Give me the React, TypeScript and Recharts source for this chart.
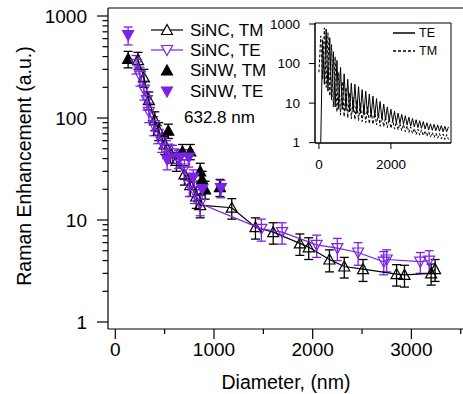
import React from 'react';
import {
  ScatterChart,
  Scatter,
  XAxis,
  YAxis,
  ErrorBar,
  ReferenceLine,
  ReferenceArea,
  Legend,
  Label,
  LineChart,
  Line,
} from 'recharts';

const FONT = '"Liberation Sans", Arial, Helvetica, sans-serif';
const PURPLE = '#7b22e6';

// SiNC, TM (open triangles, joined)
const sincTmDiam = [230, 290, 340, 400, 440, 500, 560, 620, 700, 760, 820, 860, 1180, 1420, 1600, 1870, 1960, 2170, 2320, 2510, 2850, 2930, 3200, 3240];
const sincTmVal = [370, 250, 150, 95, 75, 55, 45, 38, 28, 22, 17, 14, 13.2, 8.5, 7.6, 5.9, 5.4, 4.1, 3.5, 3.3, 2.95, 2.9, 3.0, 3.3];
const sincTmErr = [70, 50, 30, 20, 15, 11, 9, 8, 6, 5, 4, 3.5, 3, 2, 1.8, 1.4, 1.3, 1, 0.8, 0.8, 0.7, 0.7, 0.7, 0.8];

// SiNC, TE (open inverted triangles, joined)
const sincTeDiam = [210, 250, 290, 320, 340, 390, 430, 470, 520, 580, 640, 700, 750, 800, 860, 1480, 1690, 2040, 2250, 2460, 2720, 2750, 3090, 3180];
const sincTeVal = [340, 260, 190, 150, 115, 85, 70, 58, 50, 45, 40, 32, 22, 19, 14.5, 8.2, 7.6, 5.7, 5.3, 4.8, 3.9, 4.1, 3.9, 4.0];
const sincTeErr = [70, 55, 40, 30, 25, 18, 14, 12, 10, 9, 8, 7, 5, 4.5, 3.5, 2, 1.8, 1.4, 1.3, 1.2, 1, 1, 0.9, 1];

// SiNW, TM (filled triangles)
const sinwTmDiam = [130, 537, 680, 760, 860, 880, 910, 1060];
const sinwTmVal = [380, 75, 47, 47, 30, 25, 20, 21];
const sinwTmErr = [70, 12, 8, 8, 6, 5, 4, 4];

// SiNW, TE (filled inverted triangles)
const sinwTeDiam = [130, 525, 656, 745, 790, 880, 1070];
const sinwTeVal = [650, 39, 41, 41, 26, 20, 20.5];
const sinwTeErr = [130, 8, 8, 8, 5, 4, 4];

const xMajor = [0, 1000, 2000, 3000];
const xMinor = [500, 1500, 2500, 3500];
const yMajor = [1, 10, 100, 1000];
const yMinor = [2, 3, 4, 5, 6, 7, 8, 9, 20, 30, 40, 50, 60, 70, 80, 90, 200, 300, 400, 500, 600, 700, 800, 900];

// inset: calculated enhancement vs diameter
const insetDiam = [0, 50, 100, 150, 200, 250, 300, 350, 400, 450, 500, 550, 600, 650, 700, 750, 800, 850, 900, 950, 1000, 1050, 1100, 1150, 1200, 1250, 1300, 1350, 1400, 1450, 1500, 1550, 1600, 1650, 1700, 1750, 1800, 1850, 1900, 1950, 2000, 2050, 2100, 2150, 2200, 2250, 2300, 2350, 2400, 2450, 2500, 2550, 2600, 2650, 2700, 2750, 2800, 2850, 2900, 2950, 3000, 3050, 3100, 3150, 3200, 3250, 3300, 3350, 3400, 3450, 3500, 3550, 3600];
const insetTe = [null, 1, 400, 30, 750, 20, 450, 12, 200, 8, 120, 7, 80, 7, 55, 6.5, 40, 6, 32, 6, 30, 5.5, 26, 5.5, 22, 5, 20, 5, 17, 4.6, 15, 4.4, 13, 4.2, 11, 4, 9.5, 3.8, 8, 3.6, 7, 3.4, 6.2, 3.2, 5.6, 3.1, 5.2, 2.9, 4.8, 2.8, 4.4, 2.6, 4.1, 2.5, 3.8, 2.4, 3.6, 2.3, 3.4, 2.2, 3.2, 2.1, 3.0, 2.05, 2.9, 2.0, 2.8, 1.95, 2.7, 1.9, 2.6, 1.9, 2.5];
const insetTm = [60, 500, 40, 800, 25, 600, 15, 300, 8, 150, 6, 60, 5, 35, 4.5, 25, 4.2, 18, 4, 14, 3.8, 12, 3.6, 10, 3.4, 9, 3.2, 8, 3.0, 7, 2.9, 6.2, 2.8, 5.6, 2.6, 5, 2.5, 4.5, 2.4, 4, 2.3, 3.7, 2.2, 3.4, 2.1, 3.1, 2.0, 2.9, 1.9, 2.7, 1.8, 2.5, 1.7, 2.3, 1.6, 2.2, 1.55, 2.1, 1.5, 2.0, 1.45, 1.9, 1.4, 1.8, 1.35, 1.75, 1.3, 1.7, 1.25, 1.65, 1.2, 1.6, 1.2];

const toPoints = (d: number[], v: number[], e: number[]) => d.map((x, i) => ({ x, y: v[i], err: e[i] }));

const sincTm = toPoints(sincTmDiam, sincTmVal, sincTmErr);
const sincTe = toPoints(sincTeDiam, sincTeVal, sincTeErr);
const sinwTm = toPoints(sinwTmDiam, sinwTmVal, sinwTmErr);
const sinwTe = toPoints(sinwTeDiam, sinwTeVal, sinwTeErr);
const insetData = insetDiam.map((d, i) => ({ d, te: insetTe[i], tm: insetTm[i] }));

const triUp = (cx: number, cy: number, fill: string, stroke: string) => (
  <polygon
    points={`${cx},${cy - 5.5} ${cx - 5.5},${cy + 4.5} ${cx + 5.5},${cy + 4.5}`}
    fill={fill}
    stroke={stroke}
    strokeWidth={1.2}
  />
);

const triDown = (cx: number, cy: number, fill: string, stroke: string) => (
  <polygon
    points={`${cx},${cy + 5.5} ${cx - 5.5},${cy - 4.5} ${cx + 5.5},${cy - 4.5}`}
    fill={fill}
    stroke={stroke}
    strokeWidth={1.2}
  />
);

const YTick = (props: any) => {
  const { x, y, payload } = props;
  const major = yMajor.includes(payload.value);
  return (
    <g>
      <line x1={x - (major ? 11 : 5.5)} x2={x} y1={y} y2={y} stroke="#000" strokeWidth={1.2} />
      {major && (
        <text x={x - 21} y={y} dy="0.35em" textAnchor="end" fontSize={19} fontFamily={FONT} fill="#000">
          {payload.value}
        </text>
      )}
    </g>
  );
};

const XTick = (props: any) => {
  const { x, y, payload } = props;
  const major = xMajor.includes(payload.value);
  return (
    <g>
      <line x1={x} x2={x} y1={y} y2={y + (major ? 10 : 5)} stroke="#000" strokeWidth={1.2} />
      {major && (
        <text x={x} y={y + 26.5} textAnchor="middle" fontSize={19} fontFamily={FONT} fill="#000">
          {payload.value}
        </text>
      )}
    </g>
  );
};

const InsetYTick = (props: any) => {
  const { x, y, payload } = props;
  return (
    <g>
      <line x1={x - 6} x2={x} y1={y} y2={y} stroke="#000" strokeWidth={1} />
      <text x={x - 15} y={y} dy="0.35em" textAnchor="end" fontSize={13.5} fontFamily={FONT} fill="#000">
        {payload.value}
      </text>
    </g>
  );
};

const InsetXTick = (props: any) => {
  const { x, y, payload } = props;
  return (
    <g>
      <line x1={x} x2={x} y1={y} y2={y + 6} stroke="#000" strokeWidth={1} />
      <text x={x} y={y + 26.3} textAnchor="middle" fontSize={13.5} fontFamily={FONT} fill="#000">
        {payload.value}
      </text>
    </g>
  );
};

const txt = { fontSize: 17, fontFamily: FONT, fill: '#000' };

const MainLegend = () => (
  <svg width={290} height={140} style={{ display: 'block', pointerEvents: 'none' }}>
    <line x1={151} x2={183} y1={30} y2={30} stroke="#000" strokeWidth={1.2} />
    {triUp(167, 30, '#fff', '#000')}
    <text x={190} y={30} dy="0.35em" {...txt}>SiNC, TM</text>
    <line x1={151} x2={183} y1={50} y2={50} stroke={PURPLE} strokeWidth={1.2} />
    {triDown(167, 50, '#fff', PURPLE)}
    <text x={190} y={50} dy="0.35em" {...txt}>SiNC, TE</text>
    {triUp(167, 70.5, '#000', '#000')}
    <text x={190} y={70.5} dy="0.35em" {...txt}>SiNW, TM</text>
    {triDown(167, 91.5, PURPLE, PURPLE)}
    <text x={190} y={91.5} dy="0.35em" {...txt}>SiNW, TE</text>
    <text x={184} y={117} dy="0.35em" {...txt}>632.8 nm</text>
  </svg>
);

const InsetLegend = () => (
  <svg width={210} height={60} style={{ display: 'block', pointerEvents: 'none' }}>
    <line x1={143} x2={165} y1={23} y2={23} stroke="#000" strokeWidth={1.5} />
    <text x={169} y={23} dy="0.35em" fontSize={12.5} fontFamily={FONT} fill="#000">TE</text>
    <line x1={143} x2={165} y1={41} y2={41} stroke="#000" strokeWidth={1.5} strokeDasharray="3 2" />
    <text x={169} y={41} dy="0.35em" fontSize={12.5} fontFamily={FONT} fill="#000">TM</text>
  </svg>
);

export default function App() {
  return (
    <div style={{ position: 'absolute', left: 0, top: 0, width: 463, height: 394, overflow: 'hidden', background: '#fff' }}>
      <ScatterChart width={463} height={394} margin={{ top: 8, right: 0, bottom: 64, left: 107 }}>
        <XAxis
          dataKey="x"
          type="number"
          domain={[-74, 3523]}
          allowDataOverflow
          ticks={[...xMajor, ...xMinor]}
          interval={0}
          tickSize={0}
          tickMargin={0}
          tickLine={false}
          tick={<XTick />}
          height={1}
          axisLine={{ stroke: '#000', strokeWidth: 1.2 }}
        >
          <Label
            content={() => (
              <text x={286} y={389} textAnchor="middle" fontSize={19.5} fontFamily={FONT} fill="#000">
                Diameter, (nm)
              </text>
            )}
          />
        </XAxis>
        <YAxis
          dataKey="y"
          type="number"
          scale="log"
          domain={[0.854, 1198]}
          allowDataOverflow
          ticks={[...yMajor, ...yMinor]}
          interval={0}
          tickSize={0}
          tickMargin={0}
          tickLine={false}
          tick={<YTick />}
          width={1}
          axisLine={{ stroke: '#000', strokeWidth: 1.2 }}
        >
          <Label
            content={() => (
              <text
                x={0}
                y={0}
                transform="translate(31,166) rotate(-90)"
                textAnchor="middle"
                fontSize={19.5}
                fontFamily={FONT}
                fill="#000"
              >
                Raman Enhancement (a.u.)
              </text>
            )}
          />
        </YAxis>
        <ReferenceLine y={1198} stroke="#000" strokeWidth={1.2} ifOverflow="visible" />
        <Scatter
          data={sincTm}
          isAnimationActive={false}
          line={{ stroke: '#000', strokeWidth: 1.2 }}
          shape={(p: any) => triUp(p.cx, p.cy, 'none', '#000')}
        >
          <ErrorBar dataKey="err" direction="y" width={4.5} stroke="#000" strokeWidth={1.3} />
        </Scatter>
        <Scatter data={sinwTm} isAnimationActive={false} shape={(p: any) => triUp(p.cx, p.cy, '#000', '#000')}>
          <ErrorBar dataKey="err" direction="y" width={4.5} stroke="#000" strokeWidth={1.3} />
        </Scatter>
        <Scatter
          data={sincTe}
          isAnimationActive={false}
          line={{ stroke: PURPLE, strokeWidth: 1.2 }}
          shape={(p: any) => triDown(p.cx, p.cy, 'none', PURPLE)}
        >
          <ErrorBar dataKey="err" direction="y" width={4.5} stroke={PURPLE} strokeWidth={1.3} />
        </Scatter>
        <Scatter data={sinwTe} isAnimationActive={false} shape={(p: any) => triDown(p.cx, p.cy, PURPLE, PURPLE)}>
          <ErrorBar dataKey="err" direction="y" width={4.5} stroke={PURPLE} strokeWidth={1.3} />
        </Scatter>
        <Legend
          layout="vertical"
          align="center"
          verticalAlign="middle"
          content={MainLegend}
          wrapperStyle={{ left: 0, top: 0, width: 290, height: 140 }}
        />
      </ScatterChart>

      <div style={{ position: 'absolute', left: 250, top: 10, width: 210, height: 170 }}>
        <LineChart width={210} height={170} data={insetData} margin={{ top: 13, right: 9, bottom: 36, left: 64 }}>
          <XAxis
            dataKey="d"
            type="number"
            domain={[-110, 3670]}
            allowDataOverflow
            ticks={[0, 2000]}
            interval={0}
            tickSize={0}
            tickMargin={0}
            tickLine={false}
            tick={<InsetXTick />}
            height={1}
            axisLine={{ stroke: '#000', strokeWidth: 1 }}
          />
          <YAxis
            type="number"
            scale="log"
            domain={[0.98, 1060]}
            allowDataOverflow
            ticks={[1, 10, 100, 1000]}
            interval={0}
            tickSize={0}
            tickMargin={0}
            tickLine={false}
            tick={<InsetYTick />}
            width={1}
            axisLine={{ stroke: '#000', strokeWidth: 1 }}
          />
          <ReferenceArea x1={-110} x2={3670} y1={0.98} y2={1060} fill="none" stroke="#000" strokeWidth={1} ifOverflow="visible" />
          <Line dataKey="te" stroke="#000" strokeWidth={1} dot={false} isAnimationActive={false} />
          <Line dataKey="tm" stroke="#000" strokeWidth={1} strokeDasharray="3 2" dot={false} isAnimationActive={false} />
          <Legend
            layout="vertical"
            align="center"
            verticalAlign="middle"
            content={InsetLegend}
            wrapperStyle={{ left: 0, top: 0, width: 210, height: 60 }}
          />
        </LineChart>
      </div>
    </div>
  );
}
